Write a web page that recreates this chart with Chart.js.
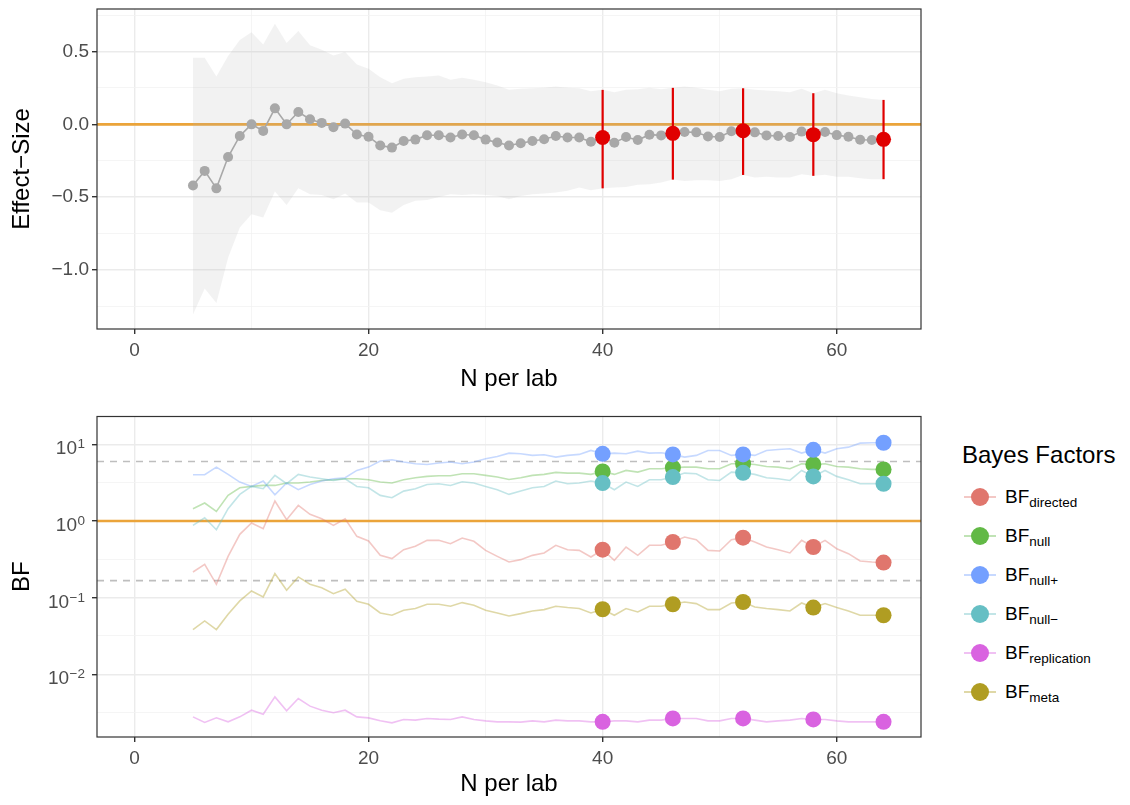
<!DOCTYPE html>
<html>
<head>
<meta charset="utf-8">
<title>Effect size and Bayes factors per lab size</title>
<script src="https://cdn.jsdelivr.net/npm/chart.js@4.4.1/dist/chart.umd.min.js"></script>
<style>
  body { margin: 0; background: #fff; }
  #page { position: relative; width: 1130px; height: 805px; font-family: "Liberation Sans", Arial, Helvetica, sans-serif; }
  #chart-effect { position: absolute; left: 0; top: 0; }
  #chart-bf { position: absolute; left: 0; top: 400px; }
  #bf-legend { position: absolute; left: 962px; top: 437px; color: #000; }
  #bf-legend .legend-title { font-size: 24px; line-height: 36px; height: 36px; margin-bottom: 4px; }
  #bf-legend .legend-row { display: flex; align-items: center; height: 39px; margin-left: 2px; }
  #bf-legend .legend-key { position: relative; width: 32px; height: 20px; margin-right: 9px; }
  #bf-legend .legend-key .key-line { position: absolute; left: 0; right: 0; top: 9px; height: 2px; opacity: 0.4; }
  #bf-legend .legend-key .key-dot { position: absolute; left: 7px; top: 1px; width: 18px; height: 18px; border-radius: 50%; }
  #bf-legend .legend-label { font-size: 19px; line-height: 22px; }
  #bf-legend .legend-label sub { font-size: 13.5px; vertical-align: -4px; line-height: 0; }
</style>
</head>
<body>
<div id="page">
  <canvas id="chart-effect" width="930" height="400"></canvas>
  <canvas id="chart-bf" width="930" height="405"></canvas>
  <div id="bf-legend"><div class="legend-title">Bayes Factors</div></div>
</div>
<script>
// sample size per lab (x axis) and the sizes where the replication is checked
const nPerLab = [5, 6, 7, 8, 9, 10, 11, 12, 13, 14, 15, 16, 17, 18, 19, 20, 21, 22, 23, 24,
  25, 26, 27, 28, 29, 30, 31, 32, 33, 34, 35, 36, 37, 38, 39, 40, 41, 42, 43, 44,
  45, 46, 47, 48, 49, 50, 51, 52, 53, 54, 55, 56, 57, 58, 59, 60, 61, 62, 63, 64];
const checkpoints = [40, 46, 52, 58, 64];

// meta-analytic effect size with its interval
const effectSize = [-0.42, -0.32, -0.44, -0.225, -0.08, 0.0, -0.045, 0.11, 0.0, 0.085,
  0.035, 0.01, -0.02, 0.005, -0.07, -0.085, -0.145, -0.16, -0.115, -0.105,
  -0.075, -0.075, -0.09, -0.07, -0.075, -0.105, -0.125, -0.145, -0.13, -0.115,
  -0.103, -0.08, -0.09, -0.09, -0.12, -0.09, -0.126, -0.087, -0.108, -0.071,
  -0.076, -0.062, -0.053, -0.055, -0.083, -0.087, -0.048, -0.044, -0.055, -0.076,
  -0.08, -0.087, -0.05, -0.071, -0.053, -0.074, -0.085, -0.106, -0.108, -0.103];
const ciLower = [-1.308, -1.129, -1.228, -0.917, -0.71, -0.618, -0.641, -0.462, -0.554, -0.439,
  -0.48, -0.485, -0.515, -0.476, -0.538, -0.538, -0.591, -0.607, -0.554, -0.526,
  -0.52, -0.499, -0.48, -0.485, -0.48, -0.485, -0.492, -0.515, -0.492, -0.48,
  -0.476, -0.469, -0.457, -0.434, -0.453, -0.44, -0.434, -0.43, -0.416, -0.411,
  -0.4, -0.38, -0.389, -0.384, -0.384, -0.389, -0.377, -0.348, -0.366, -0.361,
  -0.366, -0.366, -0.343, -0.354, -0.347, -0.361, -0.361, -0.37, -0.377, -0.377];
const ciUpper = [0.457, 0.457, 0.329, 0.47, 0.58, 0.634, 0.549, 0.692, 0.559, 0.641,
  0.543, 0.513, 0.474, 0.497, 0.411, 0.382, 0.324, 0.283, 0.313, 0.324,
  0.329, 0.336, 0.306, 0.32, 0.306, 0.29, 0.267, 0.237, 0.244, 0.248,
  0.251, 0.26, 0.251, 0.248, 0.228, 0.237, 0.221, 0.237, 0.241, 0.251,
  0.241, 0.251, 0.26, 0.251, 0.237, 0.228, 0.244, 0.248, 0.237, 0.232,
  0.228, 0.221, 0.244, 0.214, 0.237, 0.214, 0.198, 0.186, 0.175, 0.168];

// Bayes factors, stored as log10(BF)
const log10BfDirected = [-0.665, -0.565, -0.826, -0.461, -0.174, -0.026, -0.1, 0.261, 0.017, 0.204,
  0.087, 0.03, -0.057, 0.03, -0.2, -0.261, -0.448, -0.491, -0.374, -0.33,
  -0.252, -0.252, -0.296, -0.222, -0.265, -0.383, -0.461, -0.535, -0.504, -0.448,
  -0.417, -0.317, -0.374, -0.383, -0.47, -0.374, -0.513, -0.339, -0.448, -0.317,
  -0.317, -0.274, -0.209, -0.243, -0.383, -0.391, -0.243, -0.217, -0.274, -0.339,
  -0.374, -0.417, -0.252, -0.339, -0.252, -0.361, -0.426, -0.522, -0.535, -0.543];
const log10BfNull = [0.161, 0.235, 0.126, 0.335, 0.435, 0.452, 0.465, 0.465, 0.496, 0.496,
  0.509, 0.53, 0.539, 0.552, 0.552, 0.539, 0.509, 0.496, 0.539, 0.565,
  0.583, 0.591, 0.591, 0.617, 0.617, 0.596, 0.574, 0.543, 0.565, 0.596,
  0.609, 0.635, 0.626, 0.626, 0.609, 0.648, 0.609, 0.661, 0.639, 0.683,
  0.683, 0.696, 0.704, 0.704, 0.683, 0.683, 0.748, 0.748, 0.739, 0.713,
  0.704, 0.683, 0.748, 0.739, 0.748, 0.713, 0.704, 0.683, 0.674, 0.674];
const log10BfNullPlus = [0.604, 0.604, 0.704, 0.609, 0.509, 0.452, 0.522, 0.343, 0.496, 0.409,
  0.478, 0.522, 0.552, 0.565, 0.661, 0.704, 0.783, 0.8, 0.77, 0.748,
  0.739, 0.757, 0.77, 0.748, 0.77, 0.813, 0.843, 0.887, 0.878, 0.857,
  0.865, 0.835, 0.857, 0.87, 0.922, 0.878, 0.887, 0.878, 0.913, 0.887,
  0.891, 0.87, 0.835, 0.857, 0.922, 0.922, 0.857, 0.87, 0.857, 0.922,
  0.935, 0.943, 0.887, 0.93, 0.887, 0.943, 0.965, 1.017, 1.022, 1.022];
const log10BfNullMinus = [-0.057, 0.043, -0.113, 0.161, 0.348, 0.452, 0.422, 0.596, 0.487, 0.609,
  0.574, 0.552, 0.53, 0.552, 0.452, 0.435, 0.335, 0.304, 0.391, 0.422,
  0.478, 0.487, 0.465, 0.513, 0.496, 0.452, 0.409, 0.348, 0.391, 0.435,
  0.452, 0.522, 0.487, 0.496, 0.522, 0.496, 0.409, 0.509, 0.452, 0.539,
  0.539, 0.574, 0.626, 0.617, 0.539, 0.53, 0.639, 0.63, 0.609, 0.565,
  0.552, 0.53, 0.661, 0.583, 0.661, 0.583, 0.539, 0.487, 0.487, 0.487];
const log10BfReplication = [-2.557, -2.63, -2.57, -2.622, -2.557, -2.47, -2.522, -2.296, -2.478, -2.317,
  -2.417, -2.47, -2.504, -2.47, -2.557, -2.57, -2.609, -2.635, -2.591, -2.6,
  -2.578, -2.587, -2.591, -2.557, -2.591, -2.609, -2.622, -2.622, -2.626, -2.609,
  -2.622, -2.6, -2.609, -2.609, -2.622, -2.622, -2.609, -2.609, -2.622, -2.6,
  -2.6, -2.578, -2.578, -2.578, -2.609, -2.609, -2.578, -2.578, -2.6, -2.622,
  -2.609, -2.6, -2.578, -2.591, -2.591, -2.609, -2.622, -2.622, -2.622, -2.622];
const log10BfMeta = [-1.417, -1.304, -1.417, -1.217, -1.043, -0.913, -0.991, -0.687, -0.904, -0.73,
  -0.826, -0.87, -0.948, -0.891, -1.048, -1.087, -1.2, -1.23, -1.165, -1.143,
  -1.087, -1.087, -1.113, -1.065, -1.1, -1.165, -1.2, -1.239, -1.209, -1.174,
  -1.157, -1.113, -1.13, -1.143, -1.2, -1.152, -1.23, -1.143, -1.187, -1.113,
  -1.113, -1.087, -1.057, -1.078, -1.157, -1.157, -1.07, -1.057, -1.122, -1.143,
  -1.157, -1.174, -1.07, -1.13, -1.078, -1.13, -1.174, -1.23, -1.23, -1.23];

const bfKeys = ["directed", "null", "null+", "null\u2212", "replication", "meta"];
const bfSeries = [log10BfDirected, log10BfNull, log10BfNullPlus, log10BfNullMinus, log10BfReplication, log10BfMeta];
const bfColors = ["#E0766D", "#62B946", "#74A0FF", "#66BFC4", "#D963E0", "#B09D22"];

// axis breaks (major + minor grid)
const xBreaks = [0, 10, 20, 30, 40, 50, 60];
const effectBreaks = [-1.25, -1, -0.75, -0.5, -0.25, 0, 0.25, 0.5, 0.75];
const bfBreakExponents = [-2.5, -2, -1.5, -1, -0.5, 0, 0.5, 1];
const bfGuides = [6, 1 / 6];

const FONT = '"Liberation Sans", Arial, Helvetica, sans-serif';
Chart.defaults.font.family = FONT;

// major ticks get the darker grid line and a tick mark, minor ones only a faint line
function gridOptions(isMajor) {
  return {
    color: (c) => (c.tick && isMajor(c.tick.value) ? "#EBEBEB" : "#F3F3F3"),
    lineWidth: (c) => (c.tick && isMajor(c.tick.value) ? 1.4 : 0.8),
    tickColor: (c) => (c.tick && isMajor(c.tick.value) ? "#333333" : "rgba(0,0,0,0)"),
    tickLength: 5,
  };
}

const xIsMajor = (v) => v % 20 === 0;

function xScale(axisHeight) {
  return {
    type: "linear",
    min: -3.2,
    max: 67.2,
    afterBuildTicks: (scale) => { scale.ticks = xBreaks.map((v) => ({ value: v })); },
    afterFit: (scale) => { scale.height = axisHeight; },
    grid: gridOptions(xIsMajor),
    border: { display: false },
    ticks: {
      autoSkip: false,
      maxRotation: 0,
      padding: 5,
      color: "#4D4D4D",
      font: { size: 19 },
      callback: (v) => (xIsMajor(v) ? String(v) : ""),
    },
    title: { display: true, text: "N per lab", color: "#000", font: { size: 24 }, padding: { top: 0, bottom: 6 } },
  };
}

function yTitle(text) {
  return { display: true, text: text, color: "#000", font: { size: 24 }, padding: { top: 8, bottom: 0 } };
}

// fixed axis width, and no extra room reserved for half-height end labels
function fitYAxis(scale) {
  scale.width = 97;
  scale.paddingTop = 0;
  scale.paddingBottom = 0;
}

const panelBorder = {
  id: "panelBorder",
  afterDraw(chart) {
    const { ctx, chartArea: a } = chart;
    ctx.save();
    ctx.strokeStyle = "#333333";
    ctx.lineWidth = 1.2;
    ctx.strokeRect(a.left, a.top, a.right - a.left, a.bottom - a.top);
    ctx.restore();
  },
};

// horizontal reference lines drawn under the data
function referenceLines(lines) {
  return {
    id: "referenceLines",
    beforeDatasetsDraw(chart) {
      const { ctx, chartArea: a, scales } = chart;
      ctx.save();
      lines.forEach((l) => {
        const y = scales.y.getPixelForValue(l.value);
        ctx.strokeStyle = l.color;
        ctx.lineWidth = l.width;
        ctx.setLineDash(l.dash || []);
        ctx.beginPath();
        ctx.moveTo(a.left, y);
        ctx.lineTo(a.right, y);
        ctx.stroke();
      });
      ctx.restore();
    },
  };
}

const toPoints = (ys, f = (v) => v) => nPerLab.map((n, i) => ({ x: n, y: f(ys[i]) }));
const atCheckpoints = (pts) => pts.filter((p) => checkpoints.includes(p.x));

/* ---------- top panel: effect size ---------- */

const RED = "#E00000";
const effectPoints = toPoints(effectSize);
const RED_INDEX = 3;

// vertical interval lines under the red checkpoint markers
const errorBars = {
  id: "errorBars",
  beforeDatasetDraw(chart, args) {
    if (args.index !== RED_INDEX) return;
    const { ctx, scales } = chart;
    ctx.save();
    ctx.strokeStyle = RED;
    ctx.lineWidth = 2.2;
    nPerLab.forEach((n, i) => {
      if (!checkpoints.includes(n)) return;
      const x = scales.x.getPixelForValue(n);
      ctx.beginPath();
      ctx.moveTo(x, scales.y.getPixelForValue(ciLower[i]));
      ctx.lineTo(x, scales.y.getPixelForValue(ciUpper[i]));
      ctx.stroke();
    });
    ctx.restore();
  },
};

const effectIsMajor = (v) => Math.abs(v * 2 - Math.round(v * 2)) < 1e-9;

// higher "order" is drawn first, so the ribbon sits at the bottom and red markers on top
new Chart(document.getElementById("chart-effect"), {
  type: "line",
  data: {
    datasets: [
      { data: toPoints(ciLower), borderWidth: 0, pointRadius: 0, fill: false, order: 3 },
      { data: toPoints(ciUpper), borderWidth: 0, pointRadius: 0, fill: "-1", backgroundColor: "rgba(175,175,175,0.17)", order: 2 },
      { data: effectPoints, borderColor: "#A8A8A8", borderWidth: 1.6, pointRadius: 5, pointBackgroundColor: "#A8A8A8", pointBorderWidth: 0, tension: 0, order: 1 },
      { data: atCheckpoints(effectPoints), showLine: false, pointRadius: 7.5, pointBackgroundColor: RED, pointBorderWidth: 0, order: 0 },
    ],
  },
  options: {
    responsive: false,
    animation: false,
    events: [],
    layout: { padding: { top: 9, right: 9, left: 0, bottom: 0 } },
    plugins: { legend: { display: false }, tooltip: { enabled: false } },
    scales: {
      x: xScale(71),
      y: {
        min: -1.407,
        max: 0.793,
        afterBuildTicks: (scale) => { scale.ticks = effectBreaks.map((v) => ({ value: v })); },
        afterFit: fitYAxis,
        grid: gridOptions(effectIsMajor),
        border: { display: false },
        ticks: {
          padding: 3,
          color: "#4D4D4D",
          font: { size: 19 },
          callback: (v) => (effectIsMajor(v) ? v.toFixed(1).replace("-", "\u2212") : ""),
        },
        title: yTitle("Effect\u2212Size"),
      },
    },
  },
  plugins: [referenceLines([{ value: 0, color: "#EBA43A", width: 2.6 }]), errorBars, panelBorder],
});

/* ---------- bottom panel: Bayes factors ---------- */

const bfDatasets = [];
bfSeries.forEach((s, i) => {
  bfDatasets.push({
    data: toPoints(s, (v) => Math.pow(10, v)),
    borderColor: bfColors[i] + "66",
    borderWidth: 1.6,
    pointRadius: 0,
    tension: 0,
    order: 20 - i,
  });
});
bfSeries.forEach((s, i) => {
  bfDatasets.push({
    data: atCheckpoints(toPoints(s, (v) => Math.pow(10, v))),
    showLine: false,
    pointRadius: 8,
    pointBackgroundColor: bfColors[i],
    pointBorderWidth: 0,
    order: 10 - i,
  });
});

const bfIsMajor = (v) => {
  const k = Math.log10(v);
  return Math.abs(k - Math.round(k)) < 1e-6;
};

// "10" with a raised, smaller exponent for each decade on the log axis
const powerLabels = {
  id: "powerLabels",
  afterDraw(chart) {
    const { ctx, scales } = chart;
    const right = scales.y.right - 12;
    ctx.save();
    ctx.fillStyle = "#4D4D4D";
    ctx.textAlign = "right";
    ctx.textBaseline = "alphabetic";
    scales.y.ticks.forEach((t) => {
      if (!bfIsMajor(t.value)) return;
      const y = scales.y.getPixelForValue(t.value);
      const exp = String(Math.round(Math.log10(t.value))).replace("-", "\u2212");
      ctx.font = "13.5px " + FONT;
      ctx.fillText(exp, right, y + 4);
      const w = ctx.measureText(exp).width;
      ctx.font = "19px " + FONT;
      ctx.fillText("10", right - w - 0.5, y + 10);
    });
    ctx.restore();
  },
};

new Chart(document.getElementById("chart-bf"), {
  type: "line",
  data: { datasets: bfDatasets },
  options: {
    responsive: false,
    animation: false,
    events: [],
    layout: { padding: { top: 16.5, right: 9, left: 0, bottom: 0 } },
    plugins: { legend: { display: false }, tooltip: { enabled: false } },
    scales: {
      x: xScale(68),
      y: {
        type: "logarithmic",
        min: Math.pow(10, -2.82),
        max: Math.pow(10, 1.365),
        afterBuildTicks: (scale) => { scale.ticks = bfBreakExponents.map((k) => ({ value: Math.pow(10, k) })); },
        afterFit: fitYAxis,
        grid: gridOptions(bfIsMajor),
        border: { display: false },
        ticks: { padding: 3, font: { size: 19 }, callback: () => "" },
        title: yTitle("BF"),
      },
    },
  },
  plugins: [
    referenceLines([
      { value: bfGuides[0], color: "#BEBEBE", width: 1.6, dash: [7, 6] },
      { value: bfGuides[1], color: "#BEBEBE", width: 1.6, dash: [7, 6] },
      { value: 1, color: "#EBA43A", width: 2.6 },
    ]),
    powerLabels,
    panelBorder,
  ],
});

// legend for the Bayes factor series
const legend = document.getElementById("bf-legend");
bfKeys.forEach((key, i) => {
  const row = document.createElement("div");
  row.className = "legend-row";
  row.innerHTML =
    '<div class="legend-key"><div class="key-line" style="background:' + bfColors[i] + '"></div>' +
    '<div class="key-dot" style="background:' + bfColors[i] + '"></div></div>' +
    '<div class="legend-label">BF<sub>' + key + "</sub></div>";
  legend.appendChild(row);
});
</script>
</body>
</html>
